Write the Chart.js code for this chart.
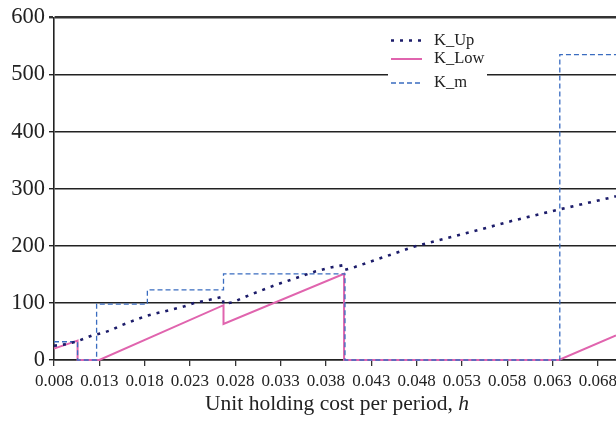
<!DOCTYPE html>
<html lang="en">
<head>
    <meta charset="UTF-8">
    <title>K_Up, K_Low and K_m against unit holding cost</title>
    <script src="https://cdn.jsdelivr.net/npm/chart.js@4.4.0"></script>
    <style>
        body { margin: 0; background: #fff; overflow: hidden; }
        canvas { display: block; }
    </style>
</head>
<body>
    <canvas id="myChart" width="616" height="421"></canvas>
    <script>
        // Values (h = unit holding cost per period)
        const hUp  = [0.008, 0.0095, 0.0106, 0.0122, 0.0135, 0.0144, 0.0153, 0.0181, 0.0224, 0.0235, 0.0256, 0.0266, 0.0267, 0.0277, 0.0296, 0.0327, 0.0348, 0.0368, 0.0388, 0.0399, 0.0401, 0.0412, 0.048, 0.0542, 0.0586, 0.0638, 0.0693, 0.070];
        const kUp  = [25, 28, 33, 43, 48, 53, 60, 77, 94, 100, 107, 111, 98, 101, 114, 133, 144, 155, 163, 166, 158, 163, 200, 225, 244, 264, 284, 287];

        const hLow = [0.008, 0.0106, 0.0106, 0.013, 0.0267, 0.0267, 0.0400, 0.0400, 0.0637, 0.070];
        const kLow = [20, 34, 0, 0, 96, 63, 151, 0, 0, 43];

        const hM   = [0.008, 0.0106, 0.0106, 0.0127, 0.0127, 0.0183, 0.0183, 0.0267, 0.0267, 0.0401, 0.0401, 0.0638, 0.0638, 0.070];
        const kM   = [32, 32, 0, 0, 98, 98, 123, 123, 151, 151, 0, 0, 535, 535];

        const hTicks = [0.008, 0.013, 0.018, 0.023, 0.028, 0.033, 0.038, 0.043, 0.048, 0.053, 0.058, 0.063, 0.068];
        const kTicks = [0, 100, 200, 300, 400, 500, 600];

        const toPoints = (xs, ys) => xs.map((x, i) => ({ x: x, y: ys[i] }));
        const serif = '"Liberation Serif", "Times New Roman", serif';

        // legend drawn inside the plot, on a white patch
        const floatingLegend = {
            id: 'floatingLegend',
            afterDatasetsDraw(chart) {
                const c = chart.ctx;
                const a = chart.chartArea;
                const x0 = a.left + 337, y0 = a.top + 23;
                c.save();
                c.fillStyle = '#fff';
                c.fillRect(x0 - 3, y0 - 12, 99, 60);
                chart.data.datasets.forEach((ds, i) => {
                    const y = y0 + [0, 18.5, 42.5][i];
                    c.beginPath();
                    c.strokeStyle = ds.borderColor;
                    c.lineWidth = ds.borderWidth;
                    c.setLineDash(ds.borderDash || []);
                    c.moveTo(x0, y);
                    c.lineTo(x0 + 31, y);
                    c.stroke();
                    c.setLineDash([]);
                    c.fillStyle = '#222';
                    c.font = '16.5px ' + serif;
                    c.textBaseline = 'middle';
                    c.textAlign = 'left';
                    c.fillText(ds.label, x0 + 43, y);
                });
                c.restore();
            }
        };

        // x-axis title with the italic h
        const axisTitle = {
            id: 'axisTitle',
            afterDraw(chart) {
                const c = chart.ctx;
                const a = chart.chartArea;
                const plain = 'Unit holding cost per period, ';
                c.save();
                c.fillStyle = '#222';
                c.textBaseline = 'alphabetic';
                c.textAlign = 'left';
                c.font = '21.5px ' + serif;
                const w1 = c.measureText(plain).width;
                c.font = 'italic 21.5px ' + serif;
                const w2 = c.measureText('h').width;
                const x = (a.left + a.right) / 2 + 2 - (w1 + w2) / 2;
                const y = 410;
                c.font = '21.5px ' + serif;
                c.fillText(plain, x, y);
                c.font = 'italic 21.5px ' + serif;
                c.fillText('h', x + w1, y);
                c.restore();
            }
        };

        const ctx = document.getElementById('myChart').getContext('2d');
        const myChart = new Chart(ctx, {
            type: 'line',
            data: {
                datasets: [{
                    label: 'K_Up',
                    data: toPoints(hUp, kUp),
                    borderColor: '#1c1c6a',
                    borderWidth: 2.6,
                    borderDash: [3, 6],
                    order: 0
                }, {
                    label: 'K_Low',
                    data: toPoints(hLow, kLow),
                    borderColor: '#e064ae',
                    borderWidth: 2,
                    order: 2
                }, {
                    label: 'K_m',
                    data: toPoints(hM, kM),
                    borderColor: '#3a6cc0',
                    borderWidth: 1.3,
                    borderDash: [5, 3],
                    order: 1
                }]
            },
            options: {
                responsive: false,
                animation: false,
                clip: false,
                layout: { padding: { top: 15, right: 0, left: 0, bottom: 0 } },
                elements: {
                    point: { radius: 0 },
                    line: { tension: 0, fill: false }
                },
                plugins: {
                    legend: { display: false },
                    tooltip: { enabled: false }
                },
                scales: {
                    x: {
                        type: 'linear',
                        min: 0.008,
                        max: 0.070,
                        afterBuildTicks: (s) => { s.ticks = hTicks.map(v => ({ value: v })); },
                        afterFit: (s) => { s.height = 61; s.paddingLeft = 0; s.paddingRight = 0; },
                        ticks: {
                            callback: (v) => Number(v).toFixed(3),
                            color: '#222',
                            font: { family: serif, size: 17 },
                            padding: 5,
                            maxRotation: 0,
                            autoSkip: false
                        },
                        grid: {
                            drawOnChartArea: false,
                            color: '#333',
                            lineWidth: 1.3,
                            tickLength: 6
                        },
                        border: { color: '#222', width: 1.6 }
                    },
                    y: {
                        min: 0,
                        max: 600,
                        afterBuildTicks: (s) => { s.ticks = kTicks.map(v => ({ value: v })); },
                        afterFit: (s) => { s.width = 54; },
                        ticks: {
                            color: '#222',
                            font: { family: serif, size: 22.5 },
                            padding: 4
                        },
                        grid: {
                            color: (c) => c.tick && c.tick.value === 600 ? '#333' : '#222',
                            lineWidth: (c) => c.tick && c.tick.value === 600 ? 2.4 : 1.4,
                            tickLength: 5
                        },
                        border: { color: '#222', width: 1.6 }
                    }
                }
            },
            plugins: [floatingLegend, axisTitle]
        });
    </script>
</body>
</html>
